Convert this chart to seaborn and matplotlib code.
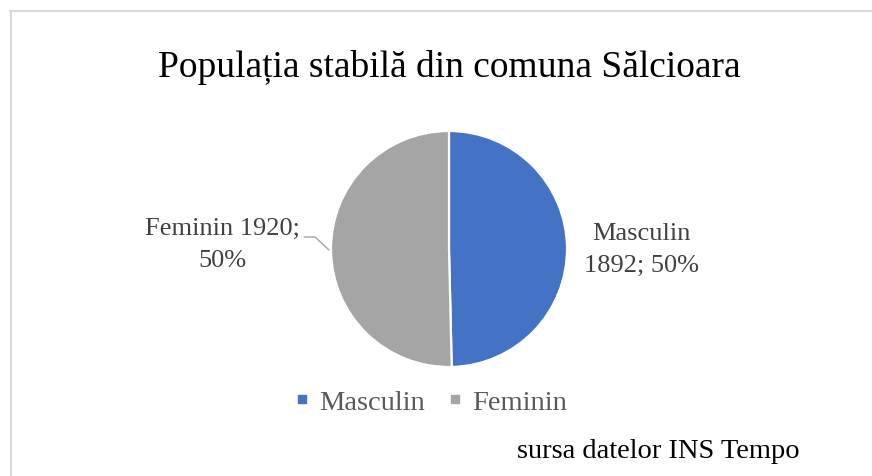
import matplotlib
matplotlib.use("Agg")
import matplotlib.pyplot as plt
import seaborn as sns
from matplotlib.lines import Line2D

# data
categories = ["Masculin", "Feminin"]
population = [1892, 1920]
label_breaks = ["\n", " "]   # where each data label wraps
slice_colors = ["#4472C4", "#A5A5A5"]

title = "Populația stabilă din comuna Sălcioara"
source = "sursa datelor INS Tempo"

sns.set_theme(style="white")
serif = ["Liberation Serif", "DejaVu Serif"]
plt.rcParams["font.family"] = serif

W, H = 872, 477
fig = plt.figure(figsize=(W / 100, H / 100), dpi=100)
ax = fig.add_axes([0, 0, 1, 1])

# pie, starting at 12 o'clock and going clockwise (Excel style)
cx, cy, r = 449, H - 250, 118
wedges, _ = ax.pie(
    population,
    colors=slice_colors,
    startangle=90,
    counterclock=False,
    center=(cx, cy),
    radius=r,
    wedgeprops=dict(edgecolor="white", linewidth=1.6),
)
ax.set_xlim(0, W)
ax.set_ylim(0, H)
ax.set_aspect("equal")
ax.axis("off")

total = sum(population)
labels = []
for name, val, brk in zip(categories, population, label_breaks):
    pct = round(val / total * 100)
    if brk == "\n":
        labels.append(f"{name}\n{val}; {pct}%")
    else:
        labels.append(f"{name} {val};\n{pct}%")

label_pos = [(641, H - 250), (222, H - 245)]
for txt, (lx, ly) in zip(labels, label_pos):
    ax.text(lx, ly, txt, ha="center", va="center", fontsize=19,
            color="#404040", linespacing=1.55)

# leader line for the left label
ax.add_line(Line2D([304, 315, 329], [H - 238, H - 238, H - 251],
                   color="#A6A6A6", lw=1.0))

ax.text(449, H - 77, title, ha="center", va="baseline", fontsize=27,
        color="black")
ax.text(800, H - 458, source, ha="right", va="baseline", fontsize=20.5,
        color="black")

# legend
handles = [Line2D([0], [0], marker="s", linestyle="none", markersize=6,
                  markerfacecolor=c, markeredgecolor=c) for c in slice_colors]
leg = ax.legend(handles, categories, loc="center", bbox_to_anchor=(431 / W, 1 - 403 / H),
                ncol=2, frameon=False, prop={"family": serif, "size": 20.5},
                handlelength=0.5, handletextpad=0.35, columnspacing=0.8, borderpad=0)
for t in leg.get_texts():
    t.set_color("#595959")

# chart frame (only top and left edges are visible in the crop)
ax.add_line(Line2D([10, W], [H - 12, H - 12], color="#D9D9D9", lw=1.5, clip_on=False))
ax.add_line(Line2D([10.5, 10.5], [H - 12, 0], color="#D9D9D9", lw=1.5, clip_on=False))

fig.savefig("out.png", dpi=100, facecolor="white")
